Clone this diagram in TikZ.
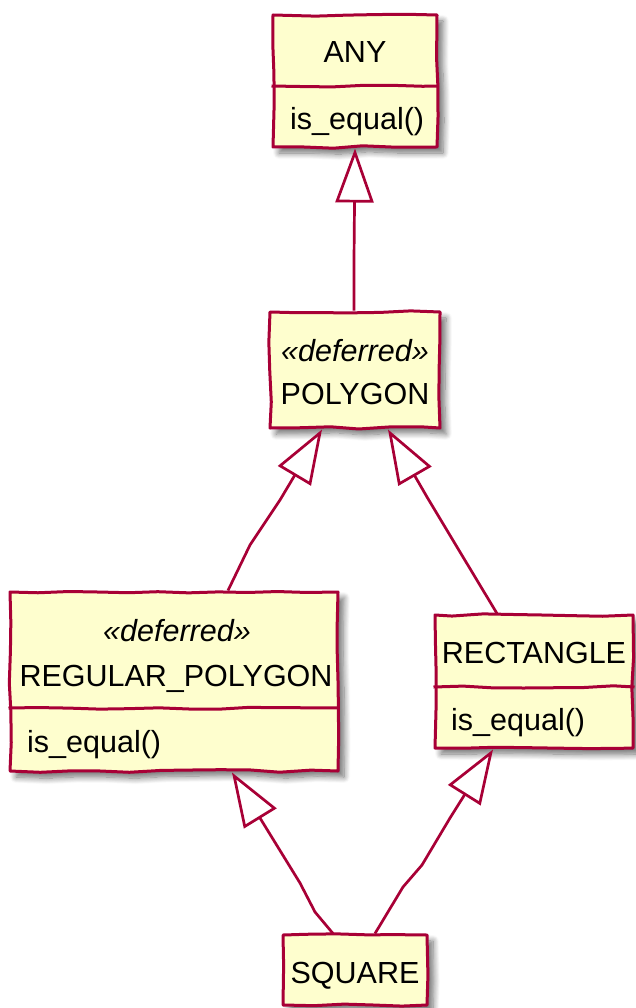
\documentclass[tikz,border=0pt]{standalone}
\usepackage{fontspec}
\setmainfont{Liberation Sans}
\usetikzlibrary{arrows.meta,shadows.blur,decorations.pathmorphing}
\definecolor{umlfill}{HTML}{FEFECE}
\definecolor{umlline}{HTML}{A80036}
\tikzset{
  classbox/.style={draw=umlline, fill=umlfill, line width=3pt, inner sep=0pt,
    rectangle, line join=round,
    blur shadow={shadow xshift=6pt, shadow yshift=-6pt, shadow blur steps=10, shadow blur radius=6pt, shadow opacity=55},
    decorate, decoration={random steps, segment length=30pt, amplitude=1.3pt}},
  divider/.style={draw=umlline, line width=3pt, line join=round,
    decorate, decoration={random steps, segment length=30pt, amplitude=1.3pt}},
  txt/.style={font=\fontsize{30.5}{36}\selectfont, inner sep=0pt, anchor=base},
  stereo/.style={font=\fontsize{30.5}{36}\selectfont\itshape, inner sep=0pt, anchor=base},
  member/.style={font=\fontsize{30.5}{36}\selectfont, inner sep=0pt, anchor=base west},
  gen/.style={draw=umlline, line width=2.7pt, line join=round,
    -{Triangle[length=54pt, width=38pt, fill=white, line join=miter]}}
}
\begin{document}
\begin{tikzpicture}[x=1pt, y=-1pt]
\useasboundingbox (0,0) rectangle (636,1008);
% boxes
\node[classbox, minimum width=164pt, minimum height=132pt] (any) at (355,81) {};
\node[classbox, minimum width=170pt, minimum height=116pt] (poly) at (355,370) {};
\node[classbox, minimum width=328pt, minimum height=179pt] (rp) at (174,681.5) {};
\node[classbox, minimum width=198pt, minimum height=133pt] (rect) at (534,681.5) {};
\node[classbox, minimum width=144pt, minimum height=70pt] (sq) at (355,970) {};
% dividers
\draw[divider] (any.west |- 0,86) -- (any.east |- 0,86);
\draw[divider] (rp.west |- 0,708) -- (rp.east |- 0,708);
\draw[divider] (rect.west |- 0,687) -- (rect.east |- 0,687);
% texts
\node[txt] (anyname) at (355,63) {ANY};
\node[member] (anym) at (290,130) {is\_equal()};
\node[stereo] (polyst) at (355,361) {«deferred»};
\node[txt] (polyname) at (355,404) {POLYGON};
\node[stereo] (rpst) at (177,641) {«deferred»};
\node[txt] (rpname) at (176,686) {REGULAR\_POLYGON};
\node[member] (rpm) at (27,752) {is\_equal()};
\node[txt] (rectname) at (534,663) {RECTANGLE};
\node[member] (rectm) at (451,730) {is\_equal()};
\node[txt] (sqname) at (355,983) {SQUARE};
% generalisations
\draw[gen] ([xshift=-1pt]poly.north) -- (354,260) -- (any.south);
\draw[gen] ([xshift=54pt]rp.north) -- (250,545) -- (280,500) -- ([xshift=-33pt]poly.south);
\draw[gen] ([xshift=-37pt]rect.north) -- (460,552) -- (427,497) -- ([xshift=33pt]poly.south);
\draw[gen] ([xshift=-22pt]sq.north) -- (315,912) -- (300,883) -- ([xshift=58pt]rp.south);
\draw[gen] ([xshift=20pt]sq.north) -- (403,887) -- (422,865) -- (450,818) -- ([xshift=-41pt]rect.south);
\end{tikzpicture}
\end{document}
